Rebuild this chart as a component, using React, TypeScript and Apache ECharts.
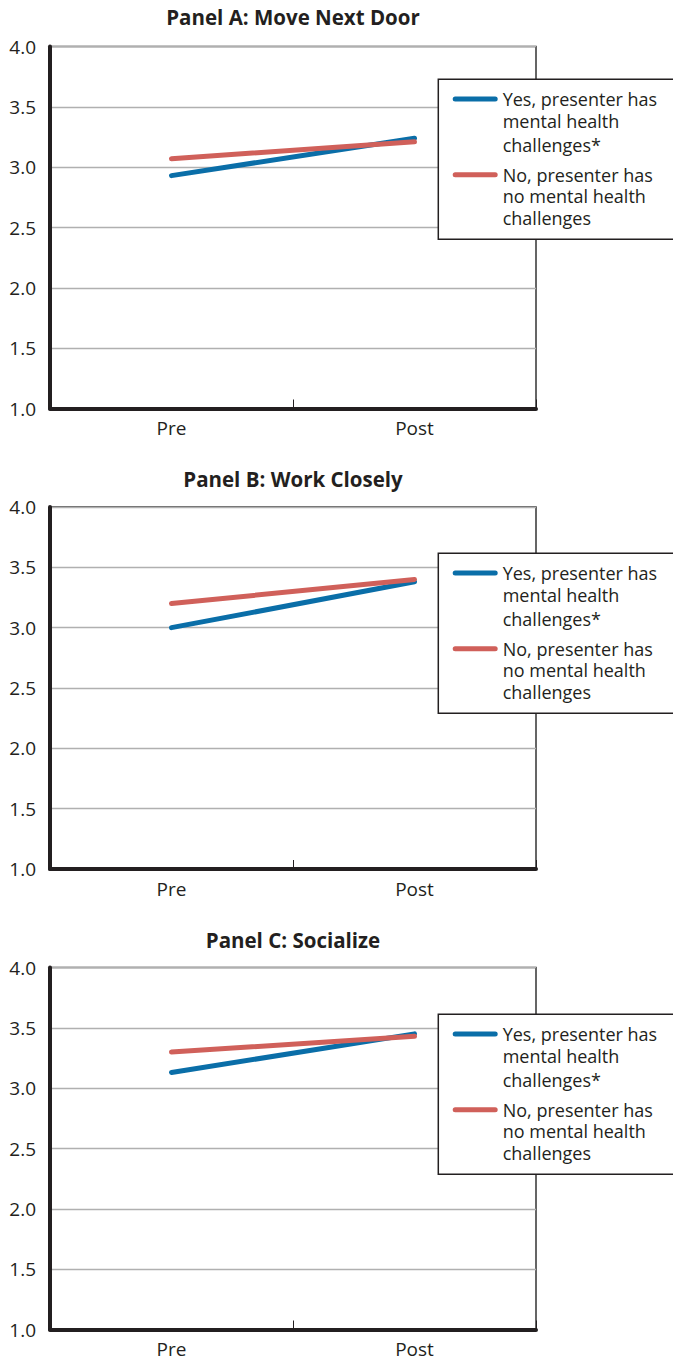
import React, { useEffect, useRef } from "react";
import * as echarts from "echarts";

const categories = ["Pre", "Post"];
const panelTitles = ["Panel A: Move Next Door", "Panel B: Work Closely", "Panel C: Socialize"];
const seriesNames = [
  "Yes, presenter has mental health challenges*",
  "No, presenter has no mental health challenges",
];
const legendLabels = [
  "{a|Yes, presenter has}\n{a|mental health}\n{c|challenges*}",
  "{b|No, presenter has}\n{b|no mental health}\n{b|challenges}",
];
// values per panel: [Pre, Post]
const yesValues = [
  [2.93, 3.24],
  [3.0, 3.38],
  [3.13, 3.45],
];
const noValues = [
  [3.07, 3.21],
  [3.2, 3.4],
  [3.3, 3.43],
];
const yMin = 1;
const yMax = 4;
const yStep = 0.5;

const BLUE = "#0a6ea8";
const RED = "#d0605a";
const INK = "#231f20";
const FONT = "'Open Sans', sans-serif";

function iconPath(cy: number): string {
  const t = cy - 2.5;
  const b = cy + 2.5;
  return (
    `path://M2.5,${t}L42.5,${t}A2.5,2.5 0 0 1 42.5,${b}L2.5,${b}A2.5,2.5 0 0 1 2.5,${t}Z` +
    "M0,0L0.01,0L0.01,0.01Z M45,70L44.99,70L44.99,69.99Z"
  );
}
const legendIcons = [iconPath(11), iconPath(13.3)];

export default function App() {
  const ref = useRef<HTMLDivElement>(null);
  useEffect(() => {
    if (!ref.current) return;
    const chart = echarts.init(ref.current, null, { renderer: "svg" });
    const gridTops = [46.5, 507, 967.5];
    const titleTops = [6, 468, 929];
    const legendTops = [79.3, 553.3, 1014.3];
    const gridH = 362;

    const grids = gridTops.map((t) => ({
      left: 50,
      width: 486,
      top: t,
      height: gridH,
      show: true,
      borderColor: "#333",
      borderWidth: 1.5,
      backgroundColor: "transparent",
    }));
    const xAxes = gridTops.map((_, i) => ({
      type: "category",
      gridIndex: i,
      data: categories,
      boundaryGap: true,
      axisLine: { show: true, lineStyle: { color: INK, width: 4 } },
      axisTick: { show: true, inside: true, length: 9, lineStyle: { color: INK, width: 1 } },
      axisLabel: { fontSize: 19, color: INK, fontFamily: FONT, margin: 10 },
      splitLine: { show: false },
    }));
    const yAxes = gridTops.map((_, i) => ({
      type: "value",
      gridIndex: i,
      min: yMin,
      max: yMax,
      interval: yStep,
      axisLine: { show: true, lineStyle: { color: INK, width: 4 } },
      axisTick: { show: false },
      axisLabel: {
        fontSize: 19,
        color: INK,
        fontFamily: FONT,
        margin: 14,
        formatter: (v: number) => v.toFixed(1),
      },
      splitLine: { show: true, lineStyle: { color: "#b0b0b0", width: 1.3 } },
    }));
    const series: any[] = [];
    gridTops.forEach((_, i) => {
      series.push({
        type: "line",
        name: seriesNames[0],
        xAxisIndex: i,
        yAxisIndex: i,
        data: yesValues[i],
        symbol: "none",
        color: BLUE,
        lineStyle: { color: BLUE, width: 5, cap: "round" },
        z: 3,
      });
      series.push({
        type: "line",
        name: seriesNames[1],
        xAxisIndex: i,
        yAxisIndex: i,
        data: noValues[i],
        symbol: "none",
        color: RED,
        lineStyle: { color: RED, width: 5, cap: "round" },
        z: 3,
      });
    });
    const baseText = { fontSize: 18, color: INK, fontFamily: FONT };
    const legends = legendTops.map((t) => ({
      left: 438.3,
      top: t,
      orient: "vertical",
      backgroundColor: "#fff",
      borderColor: INK,
      borderWidth: 1.5,
      padding: [8.7, 40, 7.9, 14.4],
      itemGap: 3.4,
      itemWidth: 45,
      itemHeight: 70,
      selectedMode: false,
      itemStyle: { borderWidth: 0 },
      data: seriesNames.map((n, k) => ({ name: n, icon: legendIcons[k] })),
      formatter: (name: string) => legendLabels[seriesNames.indexOf(name)],
      textStyle: {
        ...baseText,
        lineHeight: 22,
        rich: {
          a: { ...baseText, lineHeight: 22 },
          c: { ...baseText, lineHeight: 26 },
          b: { ...baseText, lineHeight: 21.7 },
        },
      },
      z: 10,
    }));
    const titles = panelTitles.map((t, i) => ({
      text: t,
      left: 293,
      top: titleTops[i],
      textAlign: "center",
      padding: 0,
      textStyle: { fontSize: 20.5, fontWeight: "bold", color: INK, fontFamily: FONT },
    }));

    chart.setOption({
      animation: false,
      backgroundColor: "#fff",
      title: titles,
      grid: grids,
      xAxis: xAxes,
      yAxis: yAxes,
      legend: legends,
      series,
    });
    return () => chart.dispose();
  }, []);
  return (
    <div
      ref={ref}
      style={{ position: "absolute", left: 0, top: 0, width: 673, height: 1361 }}
    />
  );
}
